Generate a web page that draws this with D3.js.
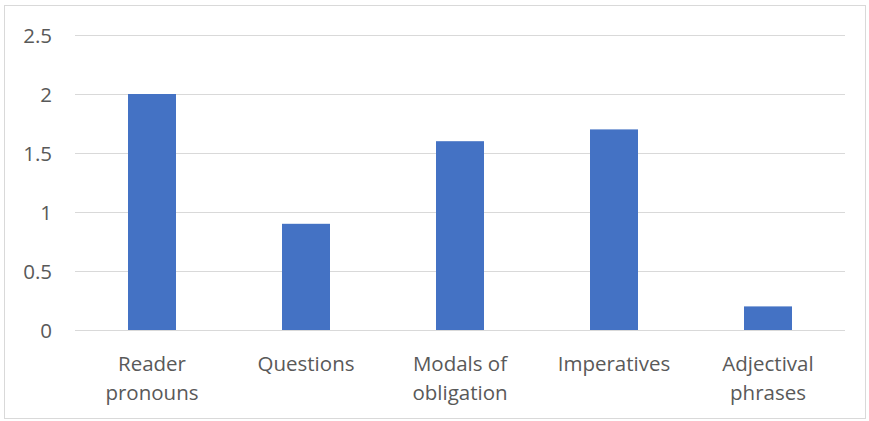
<!DOCTYPE html>
<html><head><meta charset="utf-8">
<script src="https://cdn.jsdelivr.net/npm/d3@7"></script>
<style>body{margin:0;background:#fff}svg{display:block}</style>
</head><body>
<svg id="c" width="869" height="421"></svg>
<script>
const categories = [["Reader","pronouns"],["Questions"],["Modals of","obligation"],["Imperatives"],["Adjectival","phrases"]];
const values = [2, 0.9, 1.6, 1.7, 0.2];
const yTicks = [0, 0.5, 1, 1.5, 2, 2.5];

(function(){
const svg = d3.select("#c");
const font = "'Open Sans', sans-serif";
const fs = "20.5px";
svg.append("rect").attr("x",4.5).attr("y",5.5).attr("width",861).attr("height",413)
  .attr("fill","#fff").attr("stroke","#d9d9d9");

const mL = 75, mR = 845, mT = 35, mB = 330;
const keys = categories.map(c => c.join(" "));
const x = d3.scaleBand().domain(keys).range([mL, mR]).padding(0);
const y = d3.scaleLinear().domain([0, 2.5]).range([mB, mT]);

const yAxis = svg.append("g").attr("transform",`translate(${mL},0)`)
  .call(d3.axisLeft(y).tickValues(yTicks).tickSize(-(mR-mL)).tickPadding(23).tickFormat(d => String(d)));
yAxis.select(".domain").remove();
yAxis.selectAll(".tick line").attr("stroke","#d9d9d9").attr("stroke-width",1);
yAxis.selectAll(".tick text").attr("fill","#595959").attr("dy","0.36em").style("font-family",font).style("font-size",fs);

const barW = 48;
svg.append("g").selectAll("rect").data(values).join("rect")
  .attr("x",(d,i)=>x(keys[i]) + (x.bandwidth()-barW)/2)
  .attr("width",barW)
  .attr("y",d=>y(d)).attr("height",d=>y(0)-y(d))
  .attr("fill","#4472c4");

const lab = svg.append("g");
categories.forEach((lines,i)=>{
  const t = lab.append("text").attr("text-anchor","middle")
    .attr("fill","#595959").style("font-family",font).style("font-size",fs);
  lines.forEach((l,j)=>{
    t.append("tspan").attr("x", x(keys[i]) + x.bandwidth()/2).attr("y", 371 + j*29).text(l);
  });
});
})();
</script>
</body></html>
